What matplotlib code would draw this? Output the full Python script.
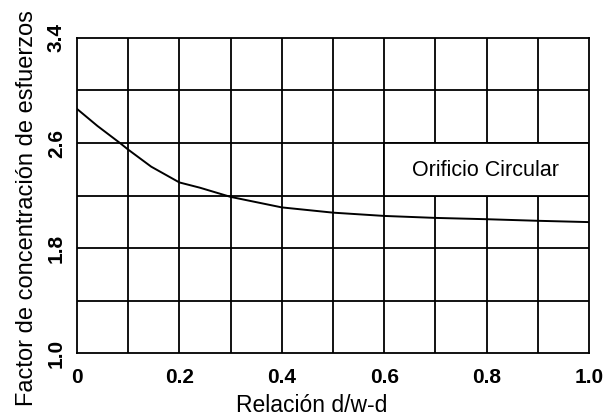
import matplotlib
matplotlib.use("Agg")
from matplotlib import pyplot as plt
from matplotlib.patches import Rectangle
import numpy as np

# curve
rel_x = [0.0, 0.04, 0.084, 0.1, 0.145, 0.2, 0.24, 0.3, 0.4, 0.5, 0.6, 0.7, 0.8, 0.9, 1.0]
factor = [2.86, 2.73, 2.60, 2.55, 2.42, 2.30, 2.26, 2.19, 2.11, 2.07, 2.045, 2.03, 2.02, 2.008, 1.998]

x_ticks = [0, 0.2, 0.4, 0.6, 0.8, 1.0]
x_ticklabels = ["0", "0.2", "0.4", "0.6", "0.8", "1.0"]
y_ticks = [1.0, 1.8, 2.6, 3.4]
y_ticklabels = ["1.0", "1.8", "2.6", "3.4"]
label_text = "Orificio Circular"

plt.rcParams['font.family'] = ['Liberation Sans', 'DejaVu Sans']

fig = plt.figure(figsize=(6.06, 4.17), dpi=100)
ax = fig.add_axes([0.127, 0.153, 0.845, 0.756])

# grid
for gx in np.arange(0.1, 1.0, 0.1):
    ax.axvline(gx, color='black', lw=1.3, zorder=1)
for gy in np.arange(1.4, 3.4, 0.4):
    ax.axhline(gy, color='black', lw=1.3, zorder=1)

# white box behind the label
ax.add_patch(Rectangle((0.6, 2.2), 0.4, 0.4, facecolor='white', edgecolor='black', lw=1.3, zorder=2))
ax.text(0.797, 2.39, label_text, ha='center', va='center', fontsize=15.5, zorder=3)

ax.plot(rel_x, factor, color='black', lw=1.4, zorder=4)

ax.set_xlim(0, 1.0)
ax.set_ylim(1.0, 3.4)
ax.set_xticks(x_ticks)
ax.set_xticklabels(x_ticklabels, fontsize=15, fontweight='bold')
ax.set_yticks(y_ticks)
ax.set_yticklabels(y_ticklabels, fontsize=15, fontweight='bold', rotation=90, va='center')
ax.tick_params(axis='x', length=0, pad=11)
ax.tick_params(axis='y', length=0, pad=8)
for s in ax.spines.values():
    s.set_linewidth(1.3)

ax.set_xlabel("Relación d/w-d", fontsize=16.5)
ax.xaxis.set_label_coords(0.459, -0.128)
ax.set_ylabel("Factor de concentración de esfuerzos", fontsize=17)
ax.yaxis.set_label_coords(-0.077, 0.46)

fig.savefig("out.png", dpi=100)
